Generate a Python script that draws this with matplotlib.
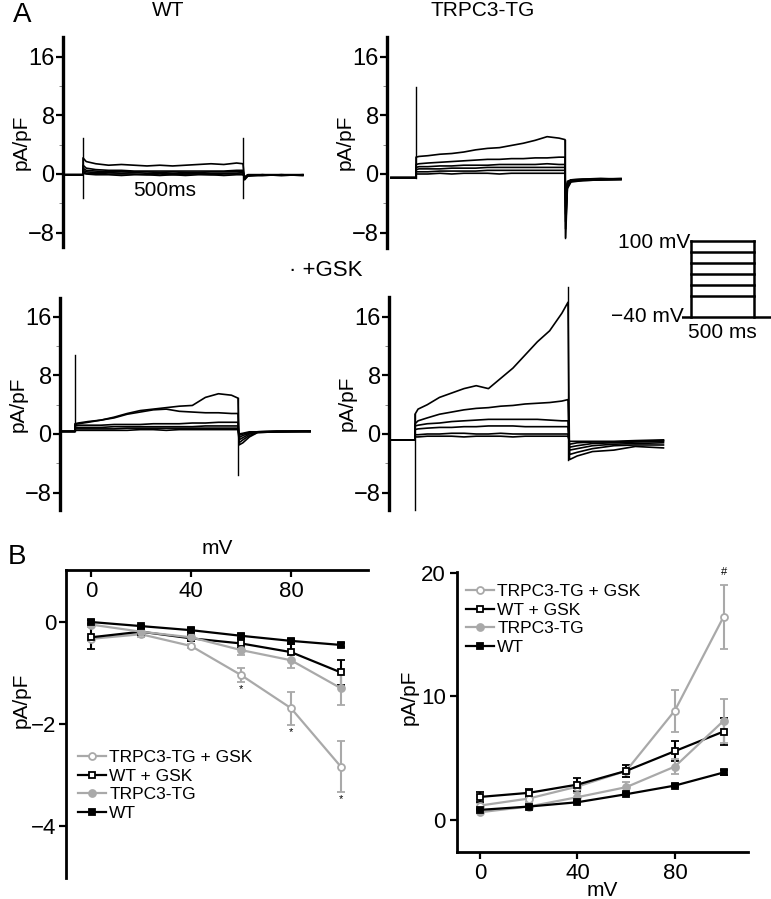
import numpy as np
import matplotlib.pyplot as plt

plt.rcParams['font.family'] = ['Liberation Sans', 'DejaVu Sans']

W, H = 771, 899
GRAY = '#a9a9a9'

# ---------------- A: whole-cell current traces (pA/pF) ----------------
# time in ms from the start of the 500 ms step
step_t = [0, 10, 40, 80, 120, 160, 200, 240, 280, 320, 360, 400, 440, 480, 500]

# WT
wt_base = -0.1
wt_steps = [
    [2.2, 1.7, 1.4, 1.2, 1.3, 1.2, 1.1, 1.2, 1.1, 1.2, 1.3, 1.4, 1.3, 1.5, 1.4],
    [1.2, 0.8, 0.6, 0.5, 0.5, 0.4, 0.4, 0.4, 0.4, 0.4, 0.4, 0.4, 0.4, 0.5, 0.5],
    [0.8, 0.5, 0.4, 0.3, 0.3, 0.3, 0.3, 0.2, 0.3, 0.2, 0.2, 0.3, 0.3, 0.3, 0.3],
    [0.5, 0.3, 0.2, 0.2, 0.1, 0.2, 0.1, 0.1, 0.1, 0.0, 0.1, 0.1, 0.1, 0.1, 0.2],
    [0.3, 0.1, 0.1, 0.0, 0.0, 0.0, -0.1, 0.0, -0.1, 0.0, 0.0, -0.1, 0.0, 0.0, 0.0],
    [0.1, 0.0, -0.1, -0.1, -0.2, -0.1, -0.1, -0.2, -0.1, -0.2, -0.1, -0.1, -0.2, -0.1, -0.1],
]
wt_tail_t = [505, 515, 560, 620, 687]
wt_tails = [
    [-0.8, -0.3, -0.1, -0.2, -0.1],
    [-0.7, -0.2, -0.2, -0.1, -0.1],
    [-0.6, -0.2, -0.1, -0.1, -0.2],
    [-0.5, -0.1, -0.1, -0.2, -0.1],
    [-0.5, -0.2, -0.2, -0.1, -0.1],
    [-0.4, -0.1, -0.1, -0.1, -0.2],
]
wt_transients = [(0, -3.3, 4.9), (500, -3.3, 4.9)]

# TRPC3-TG
tg_base = -0.5
tg_steps = [
    [2.3, 2.4, 2.5, 2.7, 2.8, 3.0, 3.3, 3.5, 3.6, 3.9, 4.2, 4.6, 5.1, 4.9, 4.7],
    [1.3, 1.4, 1.5, 1.6, 1.7, 1.8, 1.9, 2.0, 2.0, 2.1, 2.1, 2.2, 2.2, 2.3, 2.3],
    [0.9, 1.0, 1.0, 1.1, 1.1, 1.2, 1.2, 1.2, 1.3, 1.3, 1.3, 1.3, 1.4, 1.3, 1.3],
    [0.6, 0.7, 0.7, 0.7, 0.8, 0.8, 0.8, 0.9, 0.9, 0.9, 0.9, 0.9, 0.9, 0.9, 0.9],
    [0.3, 0.3, 0.3, 0.4, 0.4, 0.4, 0.4, 0.5, 0.5, 0.5, 0.5, 0.5, 0.5, 0.5, 0.5],
    [0.0, 0.0, 0.0, 0.1, 0.0, 0.1, 0.1, 0.1, 0.0, 0.1, 0.1, 0.1, 0.1, 0.1, 0.1],
]
tg_tail_t = [502, 508, 520, 560, 620, 688]
tg_tails = [
    [-8.7, -2.0, -1.1, -0.9, -0.8, -0.8],
    [-7.5, -1.8, -1.0, -0.9, -0.8, -0.7],
    [-6.5, -1.5, -0.9, -0.8, -0.7, -0.7],
    [-5.5, -1.3, -0.9, -0.8, -0.8, -0.7],
    [-4.5, -1.2, -0.8, -0.7, -0.7, -0.6],
    [-3.5, -1.0, -0.8, -0.7, -0.6, -0.7],
]
tg_transients = [(0, -0.5, 11.9), (500, -8.7, 4.7)]

# WT + GSK
wtg_base = 0.35
wtg_steps = [
    [1.4, 1.5, 1.7, 1.9, 2.3, 2.8, 3.2, 3.4, 3.6, 3.8, 3.9, 5.0, 5.5, 5.3, 4.9],
    [1.3, 1.4, 1.6, 1.9, 2.2, 2.7, 3.0, 3.3, 3.4, 3.1, 3.0, 2.9, 2.9, 2.8, 2.8],
    [1.1, 1.2, 1.2, 1.2, 1.3, 1.3, 1.3, 1.4, 1.4, 1.4, 1.5, 1.5, 1.6, 1.6, 1.6],
    [0.9, 0.9, 0.9, 0.9, 1.0, 1.0, 1.0, 1.0, 1.0, 1.0, 1.0, 1.1, 1.1, 1.1, 1.1],
    [0.7, 0.7, 0.7, 0.7, 0.7, 0.8, 0.8, 0.8, 0.8, 0.8, 0.8, 0.8, 0.8, 0.8, 0.8],
    [0.5, 0.5, 0.5, 0.5, 0.5, 0.5, 0.6, 0.6, 0.5, 0.6, 0.6, 0.6, 0.6, 0.6, 0.6],
]
wtg_tail_t = [503, 515, 535, 560, 620, 721]
wtg_tails = [
    [-1.5, -1.2, -0.4, 0.2, 0.3, 0.4],
    [-1.2, -0.8, -0.2, 0.2, 0.3, 0.3],
    [-0.8, -0.5, 0.0, 0.3, 0.4, 0.4],
    [-0.5, -0.2, 0.1, 0.3, 0.3, 0.4],
    [-0.2, 0.0, 0.2, 0.3, 0.4, 0.3],
    [0.0, 0.1, 0.3, 0.3, 0.3, 0.4],
]
wtg_transients = [(0, 0.35, 10.8), (500, -5.6, 4.9)]

# TRPC3-TG + GSK
tgg_base = -0.8
tgg_steps = [
    [2.7, 3.4, 4.0, 5.0, 5.6, 6.2, 6.6, 6.2, 7.6, 9.0, 10.8, 12.6, 14.1, 16.5, 18.0],
    [1.4, 1.8, 2.2, 2.7, 3.0, 3.3, 3.5, 3.6, 3.8, 3.9, 4.1, 4.2, 4.3, 4.5, 4.7],
    [1.1, 1.2, 1.4, 1.5, 1.7, 1.8, 1.9, 2.0, 2.0, 2.0, 2.0, 2.0, 1.9, 1.8, 1.8],
    [0.6, 0.7, 0.8, 0.9, 0.9, 1.0, 1.0, 1.1, 1.1, 1.1, 1.0, 1.0, 1.0, 1.0, 1.0],
    [-0.1, -0.1, 0.0, 0.0, 0.1, 0.1, 0.0, 0.0, 0.1, 0.0, 0.0, 0.0, 0.0, 0.0, 0.0],
    [-0.4, -0.4, -0.3, -0.3, -0.3, -0.4, -0.3, -0.3, -0.3, -0.4, -0.3, -0.3, -0.3, -0.3, -0.3],
]
tgg_tail_t = [505, 530, 580, 650, 720, 812]
tgg_tails = [
    [-3.5, -3.0, -2.4, -2.2, -1.7, -1.9],
    [-2.8, -2.5, -2.0, -1.6, -1.5, -1.5],
    [-2.2, -2.0, -1.6, -1.4, -1.3, -1.2],
    [-1.8, -1.6, -1.3, -1.2, -1.1, -1.0],
    [-1.4, -1.2, -1.1, -1.1, -1.0, -0.9],
    [-1.0, -1.0, -1.0, -1.0, -0.9, -0.8],
]
tgg_transients = [(0, -10.4, 2.7), (500, -3.5, 20.1)]

# voltage protocol (mV)
prot_levels = [0, 20, 40, 60, 80, 100]
prot_hold = -40

# ---------------- B: I-V relations (mean +/- SEM) ----------------
mv = [0, 20, 40, 60, 80, 100]
labels = ['TRPC3-TG + GSK', 'WT + GSK', 'TRPC3-TG', 'WT']

# left: negative currents
neg_tgg = [-0.33, -0.24, -0.47, -1.04, -1.69, -2.84]
neg_tgg_err = [0.04, 0.05, 0.04, 0.13, 0.32, 0.50]
neg_wtg = [-0.30, -0.19, -0.32, -0.42, -0.59, -0.99]
neg_wtg_err = [0.22, 0.05, 0.06, 0.08, 0.15, 0.24]
neg_tg = [-0.05, -0.19, -0.30, -0.55, -0.75, -1.30]
neg_tg_err = [0.04, 0.05, 0.06, 0.10, 0.16, 0.33]
neg_wt = [0.00, -0.08, -0.16, -0.27, -0.37, -0.45]
neg_wt_err = [0.03, 0.03, 0.04, 0.04, 0.04, 0.04]

# right: positive currents
pos_tgg = [1.16, 1.73, 2.70, 3.97, 8.86, 16.46]
pos_tgg_err = [0.2, 0.3, 0.4, 0.5, 1.7, 2.6]
pos_wtg = [1.86, 2.19, 2.86, 3.97, 5.57, 7.16]
pos_wtg_err = [0.4, 0.3, 0.5, 0.5, 0.8, 1.1]
pos_tg = [0.62, 1.08, 1.84, 2.65, 4.32, 8.03]
pos_tg_err = [0.1, 0.2, 0.3, 0.4, 0.6, 1.8]
pos_wt = [0.81, 1.08, 1.43, 2.08, 2.78, 3.84]
pos_wt_err = [0.1, 0.1, 0.1, 0.1, 0.15, 0.2]

# colour, marker, face colour for each series (same order as labels)
styles = [(GRAY, 'o', 'white'), ('black', 's', 'white'),
          (GRAY, 'o', GRAY), ('black', 's', 'black')]

fig = plt.figure(figsize=(W / 100, H / 100), dpi=100)


def px_axes(x0, y0, x1, y1):
    return fig.add_axes([x0 / W, 1 - y1 / H, (x1 - x0) / W, (y1 - y0) / H])


def trace_panel(spine_x, y0, y1, zero_y, onset_x, px_ms, right_x,
                base, pre_t, steps, tail_t, tails, transients):
    ax = px_axes(spine_x, y0, right_x, y1)
    s = 7.32
    ax.set_ylim((zero_y - y1) / s, (zero_y - y0) / s)
    ax.set_xlim((spine_x - onset_x) / px_ms, (right_x - onset_x) / px_ms)
    for vals, tv in zip(steps, tails):
        t = [pre_t, 0] + step_t + tail_t
        v = [base, base] + vals + tv
        ax.plot(t, v, color='black', lw=1.2, clip_on=False)
    for t, lo, hi in transients:
        ax.plot([t, t], [lo, hi], color='black', lw=1.0, clip_on=False)
    for sp in ['top', 'right', 'bottom']:
        ax.spines[sp].set_visible(False)
    ax.spines['left'].set_linewidth(2.4)
    ax.set_xticks([])
    ax.set_yticks([-8, 0, 8, 16])
    ax.set_yticklabels(['\u22128', '0', '8', '16'])
    ax.set_yticks([-4, 4, 12], minor=True)
    ax.tick_params(axis='y', which='major', length=5, width=1.6, labelsize=17, pad=1)
    ax.tick_params(axis='y', which='minor', length=3, width=0.6, color='#777777')
    ax.set_ylabel('pA/pF', fontsize=15)
    # label sits about 32 px left of the spine
    ax.yaxis.set_label_coords(-32 / (right_x - spine_x), 0.5)
    ax.patch.set_alpha(0)
    return ax


trace_panel(63, 37, 247, 174, 83, 0.32, 330, wt_base, -56,
            wt_steps, wt_tail_t, wt_tails, wt_transients)
trace_panel(387, 37, 248, 174, 416, 0.298, 680, tg_base, -84,
            tg_steps, tg_tail_t, tg_tails, tg_transients)
trace_panel(60, 298, 510, 434, 75, 0.326, 330, wtg_base, -43,
            wtg_steps, wtg_tail_t, wtg_tails, wtg_transients)
trace_panel(389, 297, 510, 434, 415, 0.306, 680, tgg_base, -78,
            tgg_steps, tgg_tail_t, tgg_tails, tgg_transients)

fig.text(22 / W, 1 - 15 / H, 'A', fontsize=20, ha='center', va='center')
fig.text(168 / W, 1 - 11 / H, 'WT', fontsize=15, ha='center', va='center')
fig.text(483 / W, 1 - 11 / H, 'TRPC3-TG', fontsize=15, ha='center', va='center')
fig.text(165 / W, 1 - 190 / H, '500ms', fontsize=15, ha='center', va='center')
fig.text(289 / W, 1 - 270 / H, '\u00b7 +GSK', fontsize=16, ha='left', va='center')

# protocol inset
axp = px_axes(682, 235, 771, 320)
axp.set_xlim(-71, 635)
axp.set_ylim(-45, 112)
axp.axis('off')
axp.plot([-71, 635], [prot_hold, prot_hold], color='black', lw=1.8)
axp.plot([0, 0], [prot_hold, max(prot_levels)], color='black', lw=1.8)
axp.plot([500, 500], [prot_hold, max(prot_levels)], color='black', lw=1.8)
for lv in prot_levels:
    axp.plot([0, 500], [lv, lv], color='black', lw=1.8)
fig.text(690 / W, 1 - 243 / H, '100 mV', fontsize=15, ha='right', va='center')
fig.text(684 / W, 1 - 316 / H, '\u221240 mV', fontsize=15, ha='right', va='center')
fig.text(722 / W, 1 - 332 / H, '500 ms', fontsize=15, ha='center', va='center')

fig.text(17 / W, 1 - 557 / H, 'B', fontsize=20, ha='center', va='center')


def iv_plot(ax, sets):
    handles = []
    for (vals, err), (col, mk, fc) in zip(sets, styles):
        c = ax.errorbar(mv, vals, yerr=err, color=col, marker=mk, mfc=fc, mec=col,
                        ms=5, mew=1.3, lw=1.6, capsize=3, elinewidth=1.5,
                        capthick=1.5, clip_on=False)
        handles.append(c.lines[0])
    return handles


# B left
axl = px_axes(66, 570, 368, 878)
axl.set_xlim(-10, 110.8)
axl.set_ylim(-5.02, 1.02)
hl = iv_plot(axl, [(neg_tgg, neg_tgg_err), (neg_wtg, neg_wtg_err),
                   (neg_tg, neg_tg_err), (neg_wt, neg_wt_err)])
for x, y, e in zip(mv[3:], neg_tgg[3:], neg_tgg_err[3:]):
    axl.text(x, y - e - 0.14, '*', fontsize=8, ha='center', va='center')
axl.spines['bottom'].set_visible(False)
axl.spines['right'].set_visible(False)
axl.spines['top'].set_linewidth(2.0)
axl.spines['left'].set_linewidth(2.0)
axl.xaxis.tick_top()
axl.set_xticks([0, 40, 80])
axl.tick_params(axis='x', direction='in', length=5, width=1.6, labelsize=16, pad=-23)
axl.set_yticks([0, -2, -4])
axl.set_yticklabels(['0', '\u22122', '\u22124'])
axl.tick_params(axis='y', direction='out', length=5, width=1.6, labelsize=16, pad=2)
axl.set_ylabel('pA/pF', fontsize=15)
axl.yaxis.set_label_coords(-0.116, 0.578)
fig.text(217 / W, 1 - 548 / H, 'mV', fontsize=15, ha='center', va='center')
axl.legend(hl, labels, loc='upper left', bbox_to_anchor=(78 / W, 1 - 750 / H),
           bbox_transform=fig.transFigure, frameon=False, fontsize=12.5,
           handlelength=1.6, handletextpad=0.2, labelspacing=0.2,
           borderpad=0, borderaxespad=0)

# B right
axr = px_axes(457, 572, 748, 852)
axr.set_xlim(-9.4, 110)
axr.set_ylim(-2.6, 20.08)
hr = iv_plot(axr, [(pos_tgg, pos_tgg_err), (pos_wtg, pos_wtg_err),
                   (pos_tg, pos_tg_err), (pos_wt, pos_wt_err)])
axr.text(mv[-1], pos_tgg[-1] + pos_tgg_err[-1] + 1.0, '#', fontsize=8,
         ha='center', va='center')
axr.spines['top'].set_visible(False)
axr.spines['right'].set_visible(False)
axr.spines['bottom'].set_linewidth(2.0)
axr.spines['left'].set_linewidth(2.0)
axr.set_xticks([0, 40, 80])
axr.set_yticks([0, 10, 20])
axr.tick_params(direction='out', length=5, width=1.6, labelsize=16, pad=3)
axr.set_ylabel('pA/pF', fontsize=15)
axr.yaxis.set_label_coords(-0.13, 0.553)
axr.set_xlabel('mV', fontsize=15, labelpad=-2)
axr.legend(hr, labels, loc='upper left', bbox_to_anchor=(466 / W, 1 - 584 / H),
           bbox_transform=fig.transFigure, frameon=False, fontsize=12.5,
           handlelength=1.6, handletextpad=0.2, labelspacing=0.2,
           borderpad=0, borderaxespad=0)

fig.savefig('out.png', dpi=100)
